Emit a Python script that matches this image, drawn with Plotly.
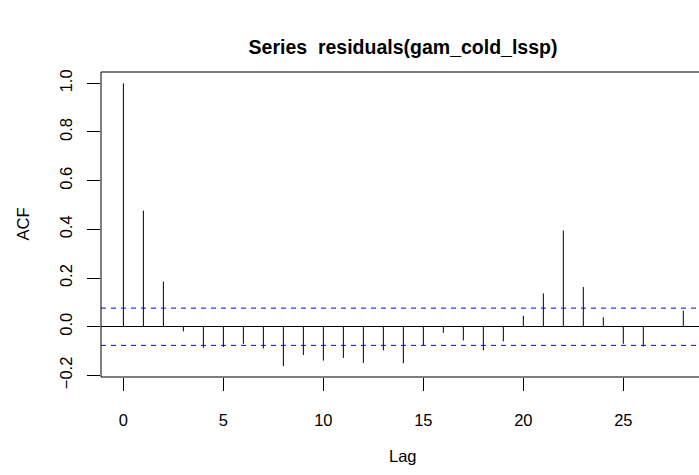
import plotly.graph_objects as go

lags = list(range(0, 29))
acf_vals = [1.0, 0.477, 0.186, -0.019, -0.086, -0.083, -0.070, -0.089, -0.162,
            -0.116, -0.139, -0.128, -0.149, -0.097, -0.150, -0.078, -0.025, -0.056,
            -0.097, -0.060, 0.045, 0.137, 0.395, 0.163, 0.039, -0.070, -0.081,
            0.003, 0.066]
ci = 0.0765
x_ticks = [0, 5, 10, 15, 20, 25]
y_ticks = [-0.2, 0.0, 0.2, 0.4, 0.6, 0.8, 1.0]
y_tick_labels = ["\u22120.2", "0.0", "0.2", "0.4", "0.6", "0.8", "1.0"]
title_text = "Series\u00a0\u00a0residuals(gam_cold_lssp)"

xs, ys = [], []
for l, v in zip(lags, acf_vals):
    xs += [l, l, None]
    ys += [0, v, None]

FONT = "Liberation Sans, Arial, Helvetica, sans-serif"
fig = go.Figure()
fig.add_trace(go.Scatter(x=xs, y=ys, mode="lines",
                         line=dict(color="black", width=1), showlegend=False,
                         hoverinfo="skip"))
for c in (ci, -ci):
    fig.add_trace(go.Scatter(x=[-1.12, 30], y=[c, c], mode="lines",
                             line=dict(color="#0000FF", width=1, dash="5px,5px"),
                             showlegend=False, hoverinfo="skip"))

fig.update_layout(
    width=699, height=475,
    margin=dict(l=101, r=0, t=72, b=98),
    plot_bgcolor="white", paper_bgcolor="white",
    font=dict(family=FONT, size=16.5, color="black"),
    title=dict(text="<b>" + title_text + "</b>", x=0.505, xref="paper",
               y=1 - 47 / 475, yanchor="middle", xanchor="center",
               font=dict(size=19.5, family=FONT, color="black")),
)
fig.update_xaxes(range=[-1.12, 28.785], tickvals=x_ticks,
                 ticks="outside", ticklen=13, tickcolor="black", tickwidth=1,
                 showgrid=False, zeroline=False, showline=False,
                 ticklabelstandoff=15, tickfont=dict(color="black"))
fig.update_yaxes(range=[-0.2064, 1.0464], tickvals=y_ticks, ticktext=y_tick_labels,
                 ticks="outside", ticklen=13, tickcolor="black", tickwidth=1,
                 showgrid=False, zeroline=True, zerolinecolor="black",
                 zerolinewidth=1, showline=False, tickangle=-90,
                 ticklabelstandoff=8, tickfont=dict(color="black"))
fig.add_shape(type="rect", xref="paper", yref="paper", x0=0, x1=1.05, y0=0, y1=1,
              line=dict(color="black", width=1), layer="above")
fig.add_annotation(text="Lag", xref="paper", yref="paper", x=0.505, y=0,
                   yshift=-79, showarrow=False, yanchor="middle",
                   font=dict(size=16.5, family=FONT))
fig.add_annotation(text="ACF", xref="paper", yref="paper", x=0, y=0.5,
                   xshift=-79, showarrow=False, xanchor="center", textangle=-90,
                   font=dict(size=16.5, family=FONT))
fig.write_html("out.html")
